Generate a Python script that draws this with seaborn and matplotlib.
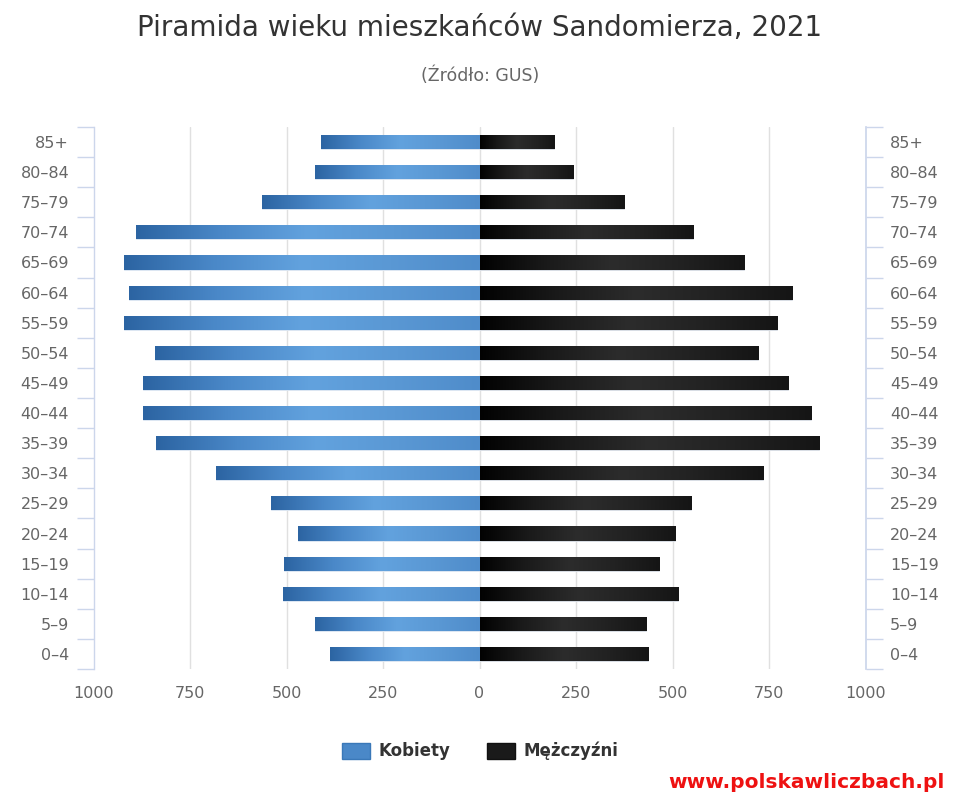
import numpy as np
import pandas as pd
import matplotlib
matplotlib.use("Agg")
import matplotlib.pyplot as plt
import seaborn as sns
from matplotlib.colors import LinearSegmentedColormap
from matplotlib.patches import Patch

age_groups = ["85+", "80–84", "75–79", "70–74", "65–69", "60–64", "55–59", "50–54",
              "45–49", "40–44", "35–39", "30–34", "25–29", "20–24", "15–19", "10–14",
              "5–9", "0–4"]
women = [411, 427, 564, 890, 920, 908, 920, 841, 871, 871, 838, 683, 539, 469, 506, 510, 427, 387]
men = [192, 241, 374, 552, 685, 810, 772, 722, 798, 860, 880, 735, 548, 507, 465, 515, 432, 436]
x_ticks = [-1000, -750, -500, -250, 0, 250, 500, 750, 1000]
series_names = ["Kobiety", "Mężczyźni"]

title = "Piramida wieku mieszkańców Sandomierza, 2021"
subtitle = "(Źródło: GUS)"
credit = "www.polskawliczbach.pl"

df = pd.DataFrame({
    "age": age_groups * 2,
    "value": [-v for v in women] + men,
    "sex": [series_names[0]] * len(women) + [series_names[1]] * len(men),
})

sns.set_theme(style="white")
plt.rcParams["font.family"] = ["DejaVu Sans"]

fig = plt.figure(figsize=(9.6, 8), dpi=100)
ax = fig.add_axes([93.5 / 960, (800 - 669) / 800, 772 / 960, 542 / 800])

blue = "#4a88c8"
dark = "#1a1a1a"
sns.barplot(data=df, y="age", x="value", hue="sex", order=age_groups,
            hue_order=series_names, palette=[blue, dark], dodge=False,
            orient="h", width=0.47, legend=False, ax=ax, saturation=1)

ax.set_xlim(-1000, 1000)
ax.set_ylim(len(age_groups) - 0.5, -0.5)

# gradients on bars
cmap_blue = LinearSegmentedColormap.from_list("b", ["#2c64a2", "#4a88c8", "#62a2de", "#5a98d4", "#4f8cca"])
cmap_dark = LinearSegmentedColormap.from_list("k", ["#020202", "#1a1a1a", "#2c2c2c", "#222222", "#151515"])
grad = np.linspace(0, 1, 256).reshape(1, -1)
for p in list(ax.patches):
    x0, y0 = p.get_x(), p.get_y()
    w, h = p.get_width(), p.get_height()
    if w == 0:
        continue
    xl, xr = min(x0, x0 + w), max(x0, x0 + w)
    fc = p.get_facecolor()
    is_blue = fc[2] > 0.5
    cm = cmap_blue if is_blue else cmap_dark
    im = ax.imshow(grad, cmap=cm, aspect="auto", extent=(xl, xr, y0 + h, y0),
                   zorder=p.get_zorder() + 0.1, interpolation="bicubic")
    im.set_clip_path(p)
    p.set_edgecolor("#e8eef6")
    p.set_linewidth(0.6)
ax.set_xlim(-1000, 1000)
ax.set_ylim(len(age_groups) - 0.5, -0.5)

# grid
for xv in x_ticks[1:-1]:
    ax.axvline(xv, color="#e0e0e0", lw=1, zorder=0)

ax.set_xticks(x_ticks)
ax.set_xticklabels([str(abs(v)) for v in x_ticks])
ax.set_xlabel("")
ax.set_ylabel("")
ax.tick_params(axis="x", length=0, labelsize=11.5, labelcolor="#666666", pad=12)

axis_col = "#ccd6eb"
for s in ["top", "bottom", "right"]:
    ax.spines[s].set_visible(False)
ax.spines["left"].set_color(axis_col)
ax.spines["left"].set_linewidth(1)

ax.set_yticks(range(len(age_groups)))
ax.set_yticklabels(age_groups)
ax.set_yticks(np.arange(-0.5, len(age_groups), 1), minor=True)
ax.tick_params(axis="y", which="major", length=0, labelsize=11.5, labelcolor="#666666", pad=17.5)
ax.tick_params(axis="y", which="minor", length=12, width=1, color=axis_col, left=True)

ax2 = ax.twinx()
ax2.set_ylim(ax.get_ylim())
ax2.set_yticks(range(len(age_groups)))
ax2.set_yticklabels(age_groups)
ax2.set_yticks(np.arange(-0.5, len(age_groups), 1), minor=True)
ax2.tick_params(axis="y", which="major", length=0, labelsize=11.5, labelcolor="#666666", pad=17.5)
ax2.tick_params(axis="y", which="minor", length=12, width=1, color=axis_col, right=True)
for s in ["top", "bottom", "left"]:
    ax2.spines[s].set_visible(False)
ax2.spines["right"].set_color(axis_col)
ax2.grid(False)

fig.text(0.5, 1 - 28 / 800, title, ha="center", va="center", fontsize=20, color="#333333")
fig.text(0.5, 1 - 76 / 800, subtitle, ha="center", va="center", fontsize=12.5, color="#666666")

handles = [Patch(facecolor="#4a88c8", edgecolor="#3a78b8"), Patch(facecolor="#1a1a1a", edgecolor="#111111")]
fig.legend(handles, series_names, loc="center", bbox_to_anchor=(0.5, 1 - 751 / 800), ncol=2,
           frameon=False, prop={"weight": "bold", "size": 12}, labelcolor="#333333",
           handlelength=1.7, handleheight=1.1, columnspacing=2.2, handletextpad=0.5)

fig.text(945 / 960, 1 - 783 / 800, credit, ha="right", va="center", fontsize=14.5,
         fontweight="bold", color="#ee1111")

fig.savefig("out.png", dpi=100)
